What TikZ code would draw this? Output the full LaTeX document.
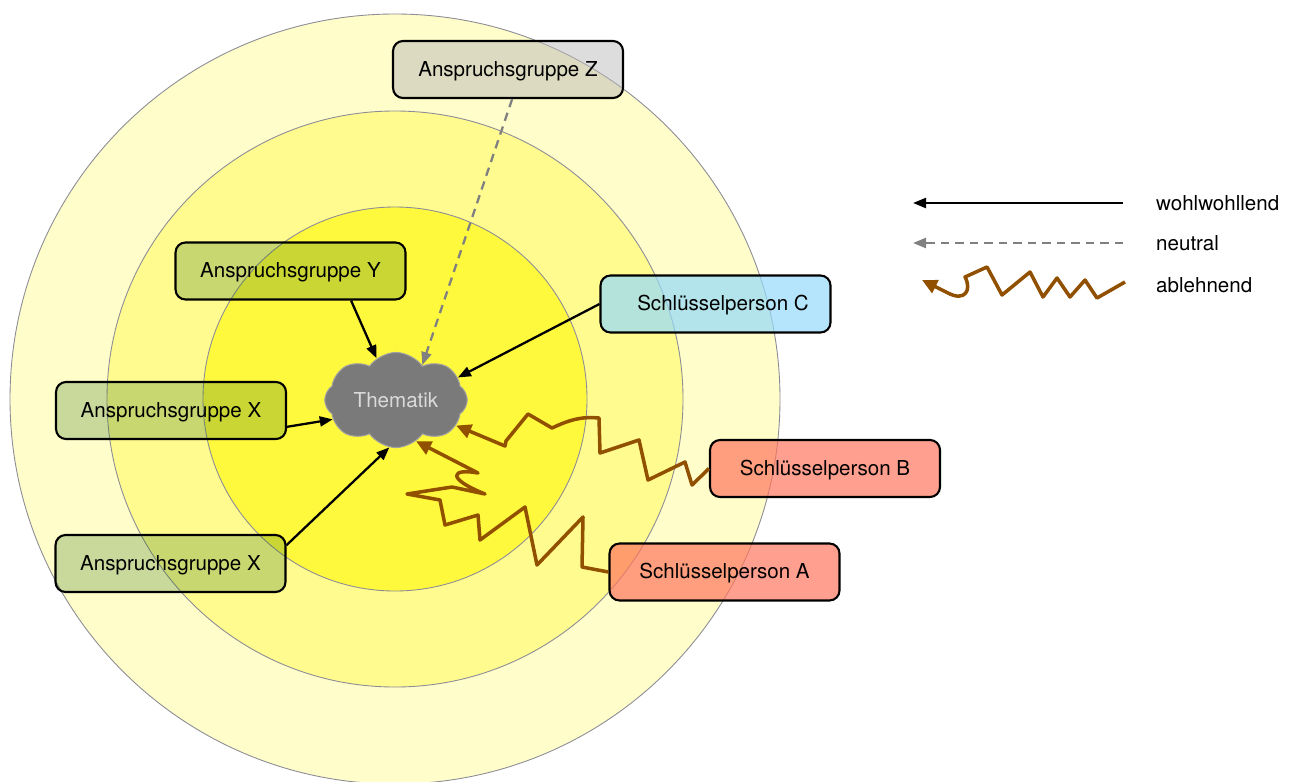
\documentclass[tikz,border=0pt]{standalone}
\usepackage{fontspec}
\setmainfont{TeX Gyre Heros}
\usetikzlibrary{arrows.meta}
\usetikzlibrary{shapes.symbols}

\definecolor{ringout}{RGB}{255,253,201}
\definecolor{ringmid}{RGB}{255,251,143}
\definecolor{ringin}{RGB}{255,249,62}
\definecolor{ringline}{RGB}{140,140,150}
\definecolor{grpgreen}{RGB}{43,110,20}
\definecolor{grpgray}{RGB}{187,187,187}
\definecolor{keyblue}{RGB}{149,218,251}
\definecolor{keyred}{RGB}{255,118,95}
\definecolor{thgray}{RGB}{122,122,122}
\definecolor{thline}{RGB}{160,160,160}
\definecolor{thtext}{RGB}{218,218,218}
\definecolor{neutralgray}{RGB}{128,128,128}
\definecolor{rejbrown}{RGB}{145,80,0}

\begin{document}
\begin{tikzpicture}[x=0.02cm, y=-0.02cm,
		every node/.style={font=\fontsize{11.7}{14}\selectfont},
		box/.style={draw, line width=1.2pt, rounded corners=0.2cm,
			minimum width=4.6cm, minimum height=1.14cm, text opacity=1,
			text height=1.0em, text depth=0.21em},
		grp/.style={box, fill=grpgreen, fill opacity=0.25},
		grpz/.style={box, fill=grpgray, fill opacity=0.5},
		keyc/.style={box, fill=keyblue, fill opacity=0.71},
		keyab/.style={box, fill=keyred, fill opacity=0.7},
		favor/.style={line width=1.3pt, -{Triangle[length=0.26cm, width=0.2cm]}},
		neu/.style={line width=1.3pt, neutralgray, dash pattern=on 0.17cm off 0.12cm,
			-{Triangle[length=0.26cm, width=0.2cm]}},
		rej/.style={line width=2pt, rejbrown, line join=round,
			-{Triangle[length=0.3cm, width=0.28cm]}}
	]
	\useasboundingbox (0,0) rectangle (1293,781);

	% rings
	\begin{scope}
		\clip (0,0) rectangle (1293,781);
		\filldraw[fill=ringout, draw=ringline, line width=0.5pt] (395,399) circle (385);
		\filldraw[fill=ringmid, draw=ringline, line width=0.5pt] (395,399) circle (288);
		\filldraw[fill=ringin, draw=ringline, line width=0.5pt] (395,399) circle (192);
	\end{scope}

	\node[cloud, cloud puffs=8, cloud puff arc=110, aspect=1.55, minimum width=2.85cm,
		minimum height=1.85cm, inner sep=0pt, fill=thgray, draw=thline, line width=0.6pt,
		text=thtext] (th) at (396,400) {Thematik};

	\node[grpz] (Z) at (508,69.5) {Anspruchsgruppe Z};
	\node[grp] (Y) at (290.5,271) {Anspruchsgruppe Y};
	\node[grp] (X1) at (171,410.5) {Anspruchsgruppe X};
	\node[grp] (X2) at (170.5,563.5) {Anspruchsgruppe X};
	\node[keyc] (C) at (715.5,304) {\hspace{0.3cm}Schlüsselperson C};
	\node[keyab] (B) at (825,468.5) {Schlüsselperson B};
	\node[keyab] (A) at (724.5,572) {Schlüsselperson A};

	% connectors
	\draw[favor] (Y.-26) -- (th.115);
	\draw[neu] (Z.-82) -- (th.53);
	\draw[favor] (C.west) -- (th.20);
	\draw[favor] (X1.-8) -- (th.197);
	\draw[favor] (X2.9) -- (th.262);
	\draw[rej] (B.west) -- (692,485) -- (685,462) -- (648,480) -- (639,440) -- (600,453)
		-- (599,418) to[out=175,in=25] (552,428) -- (528,414) -- (506,441) -- (505,446) -- (th.-23);
	\draw[rej] (A.west) -- (582,567) -- (583,517) -- (537,565) -- (525,507) -- (480,540)
		-- (478,515) -- (445,525) -- (440,500) -- (407,494) -- (452,487) -- (485,494)
		.. controls (445,478) and (452,468) .. (478,473) -- (th.-64);

	% legend
	\coordinate (wa) at (1123,203);
	\coordinate (wb) at (913,203);
	\coordinate (na) at (1123,243);
	\coordinate (nb) at (913,243);
	\coordinate (ra) at (1125,282);
	\coordinate (rb) at (922,280);
	\draw[favor] (wa) -- (wb);
	\draw[neu] (na) -- (nb);
	\draw[rej] (ra) -- (1097,298) -- (1085,280) -- (1070,297) -- (1057,278) -- (1043,297)
		-- (1030,272) -- (1002,295) -- (987,267) -- (965,277)
		.. controls (972,290) and (965,302) .. (948,293) -- (rb);
	\node[anchor=west] (wt) at (1150,203) {wohlwohllend};
	\node[anchor=west] (nt) at (1150,243) {neutral};
	\node[anchor=west] (rt) at (1150,285) {ablehnend};
\end{tikzpicture}
\end{document}
